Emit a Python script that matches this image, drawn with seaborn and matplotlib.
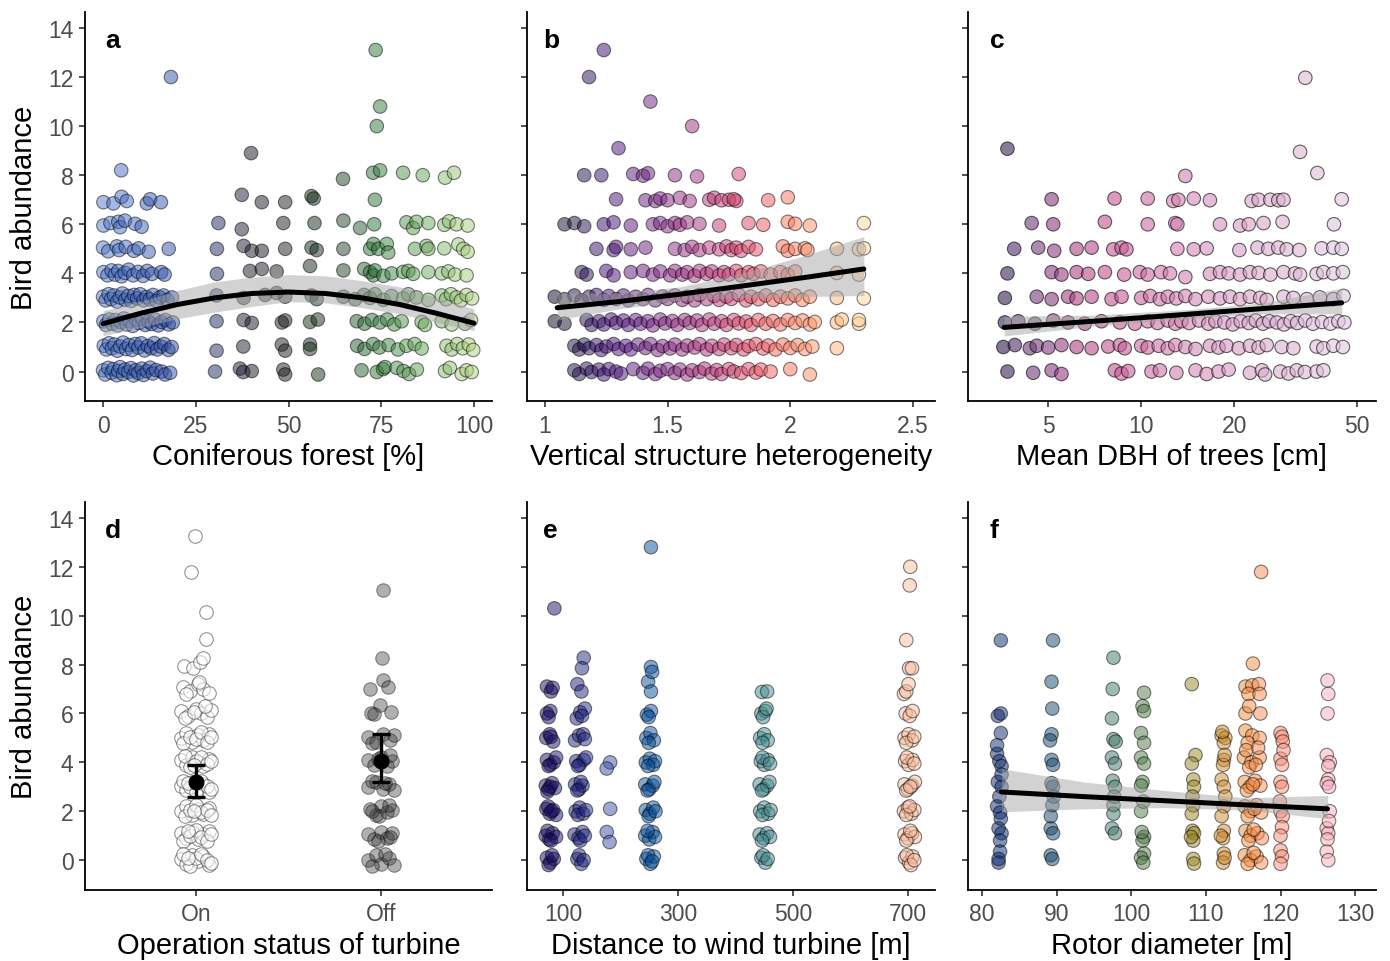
import matplotlib
matplotlib.use("Agg")
import matplotlib.pyplot as plt
import seaborn as sns
import pandas as pd
from matplotlib.colors import LinearSegmentedColormap, Normalize, LogNorm
from matplotlib.ticker import NullLocator

sns.set_style("ticks")
plt.rcParams["font.family"] = ["Liberation Sans", "DejaVu Sans"]

# ---------------- data ----------------
ylim = (-1.2, 14.65)
yticks = [0, 2, 4, 6, 8, 10, 12, 14]

# panel a: coniferous forest [%] vs abundance (x, y incl. vertical jitter)
a_pts = [
    (0.0,0.05),(0.6,-0.12),(1.4,0.15),(2.3,-0.05),(2.8,0.1),(3.7,-0.15),(4.1,0.02),(4.6,0.18),(5.4,-0.1),(5.9,0.08),
    (6.8,-0.02),(7.5,0.14),(8.2,-0.16),(8.8,0.05),(9.5,-0.06),(10.4,0.12),(10.9,-0.14),(11.8,0.02),(12.7,0.16),
    (13.4,-0.08),(14.3,0.06),(15.8,0.0),(16.7,-0.12),(18.1,-0.05),(30.2,0.0),(36.9,0.12),(37.8,-0.02),(40.1,0.02),
    (48.6,0.08),(49.1,-0.12),(58.0,-0.12),(69.7,0.05),(73.8,-0.02),(75.5,0.1),(76.0,0.18),(79.2,0.15),(81.0,0.02),
    (82.5,-0.1),(84.6,0.08),(92.2,0.02),(93.5,0.15),(96.7,-0.1),(98.0,0.05),(99.4,-0.02),
    (0.2,1.05),(0.9,0.9),(1.6,1.15),(2.4,0.95),(3.1,1.1),(3.9,0.85),(4.6,1.02),(5.4,1.18),(6.2,0.92),(7.0,1.08),
    (7.8,0.88),(8.7,1.12),(9.5,0.98),(10.3,1.15),(11.2,0.86),(12.1,1.04),(13.0,0.95),(13.8,1.16),(14.6,0.9),
    (15.6,1.02),(16.5,1.12),(17.6,0.88),(18.5,1.0),(30.6,0.85),(37.8,1.02),(48.2,1.1),(49.1,0.85),(55.8,1.1),
    (55.8,0.92),(68.5,1.05),(70.5,0.92),(72.8,1.12),(74.5,0.98),(77.0,1.08),(79.5,0.9),(81.8,1.05),(84.0,1.12),
    (85.9,0.94),(92.6,1.05),(94.0,0.9),(95.5,1.12),(97.0,0.95),(98.6,1.1),(99.8,0.88),
    (0.1,2.05),(0.8,1.9),(1.7,2.12),(2.5,1.95),(3.3,2.1),(4.0,1.88),(4.8,2.02),(5.6,2.16),(6.4,1.92),(7.2,2.06),
    (8.0,1.86),(8.9,2.1),(9.7,1.98),(10.6,2.14),(11.4,1.9),(12.3,2.04),(13.1,1.94),(14.0,2.12),(14.9,1.88),
    (15.8,2.02),(16.8,2.1),(17.7,1.92),(18.8,2.0),(30.6,2.05),(37.9,2.1),(40.1,1.98),(48.2,2.0),(49.1,2.08),
    (55.8,2.02),(57.9,2.12),(68.4,2.05),(70.5,1.95),(72.5,2.1),(74.6,2.0),(76.6,2.12),(78.5,1.92),(80.5,2.05),
    (85.9,2.02),(86.8,1.9),(91.3,2.05),(94.0,1.92),(97.6,1.95),(99.2,2.1),
    (0.0,3.05),(0.7,2.9),(1.5,3.15),(2.2,2.95),(3.0,3.1),(3.8,2.85),(4.5,3.02),(5.2,3.18),(6.0,2.92),(6.8,3.08),
    (7.6,2.88),(8.4,3.12),(9.2,2.98),(10.0,3.15),(10.9,2.9),(11.7,3.04),(12.6,2.94),(13.5,3.12),(14.4,2.88),
    (15.3,3.02),(16.3,3.1),(17.4,2.92),(18.6,3.02),(30.6,3.1),(37.9,3.0),(43.7,3.12),(46.8,3.2),(49.1,3.05),
    (56.2,3.1),(57.6,2.95),(64.8,3.05),(68.0,2.95),(70.4,3.12),(72.0,3.0),(73.3,3.15),(75.6,2.92),(77.8,3.08),
    (80.9,2.98),(82.3,3.15),(84.5,3.02),(87.7,2.92),(91.3,3.1),(92.5,2.95),(93.8,3.15),(95.3,3.02),(96.5,2.9),
    (98.0,3.12),(99.5,2.98),
    (0.1,4.05),(1.2,3.92),(2.3,4.12),(3.2,3.95),(4.1,4.1),(5.0,3.88),(5.9,4.02),(6.9,4.15),(8.1,3.92),(9.4,4.06),
    (10.8,3.9),(11.9,4.1),(13.2,3.98),(15.7,4.05),(16.6,3.95),(30.7,3.98),(39.6,4.1),(42.8,4.18),(46.8,4.08),
    (55.8,4.3),(64.8,4.12),(70.4,4.18),(72.0,4.05),(72.9,3.92),(73.3,4.12),(75.6,3.9),(77.8,4.0),(80.9,4.06),
    (82.3,4.1),(83.6,3.98),(87.7,4.05),(91.3,4.0),(93.1,4.08),(94.9,3.95),(98.0,3.92),
    (0.0,5.05),(1.4,4.9),(3.7,5.1),(4.3,4.95),(6.1,5.08),(8.3,4.92),(9.6,5.02),(12.3,4.88),(17.7,5.0),(30.7,5.0),
    (37.9,5.12),(40.1,4.92),(42.8,4.92),(49.1,5.0),(56.2,5.05),(57.6,4.95),(64.8,5.0),(72.0,5.0),(72.9,5.2),
    (74.2,5.0),(76.5,5.2),(76.9,4.85),(84.1,5.0),(87.2,5.12),(87.7,5.0),(92.0,5.02),(95.8,5.18),(97.1,5.0),(98.3,4.88),
    (0.1,5.95),(2.0,6.05),(4.1,6.1),(4.6,5.88),(5.9,6.15),(8.6,6.02),(10.4,5.9),(31.1,6.05),(37.4,5.8),(48.6,6.05),
    (57.0,6.05),(64.8,6.15),(69.3,5.85),(73.1,6.0),(81.8,6.08),(83.6,5.85),(84.5,6.1),(87.7,6.05),(92.0,5.98),
    (93.3,6.12),(95.3,6.0),(98.3,5.95),
    (0.1,6.9),(2.8,6.85),(5.0,7.12),(6.4,6.95),(11.8,6.85),(12.7,7.02),(15.6,6.9),(37.4,7.2),(42.8,6.9),(49.1,6.9),
    (56.2,7.15),(56.8,7.05),(73.3,7.0),
    (4.9,8.2),(18.3,12.0),(39.9,8.9),(64.7,7.85),(72.8,8.1),(74.7,8.2),(80.9,8.1),(86.2,8.0),(92.2,7.9),(94.6,8.1),
    (73.8,10.0),(74.7,10.8),(73.5,13.1),
]
a_fit_x = [0, 10, 20, 30, 40, 50, 60, 70, 80, 90, 100]
a_fit = [1.95, 2.37, 2.73, 3.0, 3.18, 3.24, 3.18, 3.0, 2.73, 2.37, 1.97]
a_lo = [1.46, 1.8, 2.15, 2.42, 2.65, 2.85, 2.8, 2.6, 2.35, 2.0, 1.67]
a_hi = [2.48, 2.85, 3.3, 3.65, 3.85, 3.95, 3.9, 3.7, 3.45, 3.0, 2.55]

# panel b: vertical structure heterogeneity
b_pts = [
    (1.12,0.05),(1.14,-0.1),(1.17,0.12),(1.19,-0.02),(1.22,0.08),(1.24,-0.12),(1.26,0.1),(1.29,0.0),(1.31,-0.08),
    (1.36,0.1),(1.40,-0.05),(1.42,0.12),(1.45,-0.1),(1.47,0.03),(1.50,0.1),(1.53,-0.06),(1.55,0.08),(1.58,-0.12),
    (1.60,0.05),(1.63,-0.02),(1.65,0.12),(1.68,-0.08),(1.70,0.06),(1.72,-0.1),(1.75,0.1),(1.77,0.0),(1.80,-0.06),
    (1.83,0.1),(1.86,-0.04),(1.88,0.08),(1.92,0.0),(2.00,0.1),(2.08,-0.12),
    (1.12,1.05),(1.14,0.9),(1.16,1.1),(1.18,0.95),(1.21,1.08),(1.23,0.88),(1.25,1.02),(1.28,1.12),(1.30,0.92),
    (1.33,1.05),(1.35,0.9),(1.38,1.1),(1.41,0.96),(1.43,1.12),(1.46,0.88),(1.48,1.04),(1.51,0.94),(1.53,1.1),
    (1.56,0.9),(1.58,1.06),(1.61,0.98),(1.63,1.12),(1.66,0.9),(1.68,1.05),(1.71,0.92),(1.73,1.1),(1.76,0.95),
    (1.78,1.08),(1.81,0.9),(1.83,1.04),(1.86,1.12),(1.89,0.94),(1.91,1.06),(1.94,0.9),(1.97,1.1),(2.00,0.96),
    (2.03,1.08),(2.06,0.92),(2.09,1.02),(2.19,0.95),
    (1.04,2.05),(1.08,1.95),(1.17,2.1),(1.19,1.9),(1.22,2.05),(1.24,1.92),(1.27,2.12),(1.29,1.98),(1.32,2.08),
    (1.34,1.9),(1.37,2.1),(1.39,1.95),(1.42,2.05),(1.44,1.88),(1.47,2.12),(1.49,1.96),(1.52,2.06),(1.54,1.9),
    (1.57,2.1),(1.59,1.98),(1.62,2.08),(1.64,1.9),(1.67,2.12),(1.69,1.95),(1.72,2.05),(1.74,1.9),(1.77,2.1),
    (1.79,1.96),(1.82,2.04),(1.84,1.9),(1.87,2.1),(1.90,1.95),(1.93,2.06),(1.96,1.92),(1.99,2.1),(2.02,1.98),
    (2.05,2.08),(2.08,1.92),(2.10,2.02),(2.19,2.0),(2.21,2.12),(2.28,1.95),(2.28,2.1),
    (1.04,3.05),(1.08,2.95),(1.12,3.1),(1.15,2.9),(1.18,3.05),(1.21,3.12),(1.24,2.92),(1.26,3.08),(1.29,2.95),
    (1.32,3.1),(1.34,2.9),(1.37,3.05),(1.40,2.95),(1.42,3.12),(1.45,2.9),(1.48,3.06),(1.50,2.96),(1.53,3.1),
    (1.56,2.92),(1.58,3.05),(1.61,2.9),(1.63,3.12),(1.66,2.95),(1.69,3.08),(1.71,2.92),(1.74,3.05),(1.76,2.96),
    (1.79,3.12),(1.82,2.9),(1.84,3.05),(1.87,2.95),(1.90,3.1),(1.93,2.92),(1.96,3.05),(1.99,2.98),(2.02,3.1),
    (2.05,2.92),(2.08,3.05),(2.19,3.0),(2.30,2.98),
    (1.15,4.05),(1.17,3.95),(1.25,4.1),(1.28,3.92),(1.35,4.05),(1.40,4.1),(1.44,3.95),(1.47,4.08),(1.51,3.92),
    (1.53,4.1),(1.56,3.95),(1.58,4.05),(1.61,3.9),(1.63,4.1),(1.66,3.98),(1.68,4.08),(1.71,3.92),(1.73,4.05),
    (1.75,3.95),(1.78,4.1),(1.80,3.92),(1.83,4.05),(1.85,3.98),(1.88,4.08),(1.92,3.95),(1.96,4.05),(1.99,3.95),
    (2.02,4.08),(2.19,4.02),(2.28,3.95),
    (1.21,5.0),(1.28,4.95),(1.29,5.08),(1.35,4.98),(1.41,5.05),(1.53,5.0),(1.57,4.95),(1.60,5.08),(1.63,4.95),
    (1.67,5.05),(1.71,4.98),(1.74,5.1),(1.76,4.95),(1.78,5.05),(1.80,4.92),(1.83,5.08),(1.86,4.98),(1.97,5.1),
    (1.99,4.92),(2.02,5.0),(2.06,5.02),(2.07,4.95),(2.19,5.0),(2.28,4.98),(2.30,5.02),
    (1.08,6.0),(1.12,6.05),(1.16,5.92),(1.24,6.0),(1.28,6.08),(1.35,5.95),(1.44,6.0),(1.47,6.05),(1.50,5.92),
    (1.53,6.05),(1.55,5.98),(1.58,6.08),(1.63,6.02),(1.71,5.95),(1.83,6.05),(1.89,5.98),(1.99,6.1),(2.02,6.02),
    (2.08,5.95),(2.30,6.05),
    (1.29,7.02),(1.41,6.98),(1.45,6.95),(1.47,7.05),(1.50,6.98),(1.55,7.08),(1.59,6.95),(1.67,7.0),(1.69,7.08),
    (1.72,6.98),(1.75,7.0),(1.78,6.95),(1.77,7.02),(1.91,6.98),(1.99,7.1),
    (1.16,8.0),(1.23,8.0),(1.36,8.05),(1.40,7.98),(1.42,8.08),(1.53,8.0),(1.62,7.95),(1.79,8.05),
    (1.24,13.1),(1.18,12.0),(1.43,11.0),(1.60,10.0),(1.30,9.1),
]
b_fit_x = [1.05, 1.3, 1.55, 1.8, 2.05, 2.3]
b_fit = [2.6, 2.85, 3.15, 3.48, 3.82, 4.18]
b_lo = [2.1, 2.55, 2.9, 3.0, 3.05, 3.1]
b_hi = [3.2, 3.2, 3.45, 4.0, 4.7, 5.5]

# panel c: mean DBH of trees [cm] (log axis)
c_pts = [
    (3.69,0.0),(4.47,-0.05),(5.13,0.05),(5.52,-0.1),(8.22,0.05),(8.64,-0.08),(9.08,0.02),(10.8,0.0),(11.5,0.05),
    (13.0,-0.05),(15.0,0.05),(16.3,-0.1),(17.8,0.0),(19.2,0.08),(22.5,-0.05),(24.6,0.05),(25.2,-0.12),(28.2,0.0),
    (30.0,-0.08),(31.9,0.05),(33.9,-0.02),(37.0,0.0),(38.9,0.05),
    (3.58,1.0),(3.90,1.08),(4.36,0.95),(4.59,1.05),(5.00,0.98),(5.52,1.08),(6.18,1.0),(6.91,0.95),(7.82,1.02),
    (8.53,1.08),(8.85,0.95),(10.0,1.05),(10.5,0.98),(11.4,1.05),(12.2,0.95),(12.9,1.08),(13.9,1.0),(15.0,0.92),
    (16.7,1.05),(17.8,0.98),(18.9,1.05),(20.7,0.95),(22.5,1.05),(24.0,0.98),(25.5,1.08),(28.5,1.0),(31.1,0.95),
    (37.0,1.02),(38.9,0.95),(41.9,1.05),(45.0,1.0),
    (3.62,2.0),(4.00,2.05),(4.53,1.95),(5.19,2.08),(5.80,2.0),(6.57,1.95),(7.44,2.05),(8.53,2.0),(9.54,1.95),
    (10.5,2.05),(11.3,1.98),(12.2,2.08),(12.9,1.95),(13.5,2.05),(14.3,1.98),(15.4,2.08),(16.5,1.95),(17.4,2.05),
    (18.6,2.0),(19.8,1.92),(21.0,2.05),(22.3,1.98),(23.5,2.08),(24.8,1.95),(26.0,2.05),(27.5,2.0),(29.0,1.92),
    (30.5,2.05),(32.0,1.98),(34.0,2.08),(36.0,1.95),(38.5,2.02),(41.0,1.95),(43.5,2.05),(45.5,2.0),
    (3.62,3.0),(4.59,3.05),(5.13,2.95),(5.80,3.05),(6.18,2.98),(6.91,3.05),(8.02,2.95),(8.64,3.05),(10.0,3.0),
    (10.7,3.08),(11.5,2.95),(12.2,3.05),(13.0,2.98),(13.9,3.08),(15.0,2.95),(16.5,3.05),(18.0,2.98),(19.4,3.05),
    (20.9,2.95),(22.5,3.05),(24.3,3.0),(25.5,2.92),(28.9,3.05),(31.1,3.0),(34.4,2.95),(37.9,3.02),(41.9,2.95),
    (45.2,3.08),
    (3.69,4.0),(5.13,4.05),(5.52,3.95),(6.18,4.05),(6.74,3.98),(7.63,4.05),(8.81,3.95),(9.90,4.05),(10.5,3.95),
    (11.6,4.05),(12.4,4.0),(13.9,3.85),(16.7,3.98),(18.0,4.05),(19.2,4.0),(20.9,3.95),(22.5,4.05),(24.0,4.02),
    (26.2,3.95),(28.9,4.05),(31.5,4.0),(32.7,3.95),(37.0,3.98),(38.9,4.05),(41.9,4.0),(45.0,4.05),
    (3.88,5.0),(4.64,5.05),(5.23,4.92),(6.18,5.0),(6.91,5.05),(8.12,4.98),(8.64,5.05),(8.96,4.98),(13.1,5.0),
    (14.8,4.98),(16.3,5.02),(20.8,4.95),(23.8,5.05),(25.8,5.0),(27.8,5.05),(29.6,4.98),(32.5,4.95),(38.4,5.02),
    (41.9,5.05),(44.6,5.0),
    (4.42,6.05),(5.19,6.0),(7.63,6.1),(10.5,6.0),(12.9,6.05),(13.1,6.0),(18.0,6.0),(20.9,5.95),(22.3,6.0),
    (24.9,6.05),(28.7,6.1),(42.1,6.0),
    (5.13,7.02),(8.2,7.05),(10.5,7.05),(12.7,6.95),(13.2,7.0),(14.8,7.05),(16.7,6.98),(22.8,6.95),(24.0,7.0),
    (26.2,7.0),(27.8,6.98),(28.9,7.0),(44.6,7.02),
    (3.69,9.08),(13.9,7.97),(34.0,11.97),(32.7,8.95),(37.2,8.09),
]
c_fit_x = [3.6, 7.0, 14.0, 25.0, 44.6]
c_fit = [1.80, 2.05, 2.33, 2.57, 2.80]
c_lo = [1.45, 1.85, 2.15, 2.35, 2.35]
c_hi = [2.25, 2.3, 2.52, 2.8, 3.4]

# panel d: operation status (category position incl. horizontal jitter, y)
d_categories = ["On", "Off"]
d_on_pts = [
    (-0.005,13.27),(-0.024,11.8),(0.053,10.15),(0.053,9.06),(-0.064,7.95),(-0.015,7.85),(0.022,8.1),(0.04,8.25),
    (-0.07,7.1),(-0.03,6.9),(0.01,7.2),(0.04,7.0),(0.07,6.85),(-0.05,6.8),(0.02,7.3),
    (-0.08,6.1),(-0.04,5.9),(0.0,6.2),(0.03,6.0),(0.06,5.85),(-0.06,5.8),(0.08,6.15),(-0.01,6.05),(0.05,6.3),
    (-0.08,5.0),(-0.05,5.2),(-0.02,4.85),(0.01,5.1),(0.04,4.9),(0.07,5.15),(-0.07,4.8),(-0.03,5.05),(0.0,4.95),
    (0.03,5.25),(0.06,4.85),(0.08,5.05),
    (-0.08,4.1),(-0.05,3.9),(-0.02,4.2),(0.01,4.0),(0.04,3.85),(0.07,4.15),(-0.06,4.25),(-0.03,3.8),(0.0,4.05),
    (0.03,4.2),(0.06,3.95),(0.08,4.05),(-0.01,3.9),
    (-0.08,3.05),(-0.05,2.85),(-0.02,3.2),(0.01,2.95),(0.04,3.1),(0.07,2.8),(-0.07,3.25),(-0.03,3.0),(0.0,2.8),
    (0.03,3.25),(0.06,3.05),(0.08,2.9),(-0.04,3.15),
    (-0.08,2.0),(-0.05,2.2),(-0.02,1.85),(0.01,2.1),(0.04,1.9),(0.07,2.15),(-0.06,1.8),(-0.03,2.05),(0.0,2.25),
    (0.03,1.95),(0.06,2.05),(0.08,1.85),(-0.01,2.0),
    (-0.08,1.1),(-0.05,0.9),(-0.02,1.15),(0.01,0.85),(0.04,1.05),(0.07,1.2),(-0.07,0.8),(-0.03,1.0),(0.0,1.25),
    (0.03,0.95),(0.06,0.8),(0.08,1.05),(-0.04,1.2),
    (-0.08,0.05),(-0.05,-0.15),(-0.02,0.2),(0.01,-0.05),(0.04,0.15),(0.07,-0.2),(-0.07,0.25),(-0.03,-0.25),
    (0.0,0.1),(0.03,0.25),(0.06,0.0),(0.08,-0.1),(-0.04,0.1),
]
d_off_pts = [
    (1.01,11.06),(1.004,8.28),(0.94,7.0),(1.01,7.35),(1.036,7.08),(0.946,6.02),(0.991,6.33),(1.054,6.06),(0.96,5.98),
    (0.93,5.05),(0.97,4.85),(1.01,5.15),(1.05,4.9),(1.07,5.1),(0.95,4.8),
    (0.93,4.1),(0.96,3.9),(1.0,4.2),(1.03,3.85),(1.06,4.05),(0.98,4.15),(1.05,4.3),
    (0.93,3.0),(0.97,3.2),(1.01,2.9),(1.04,3.1),(1.07,2.85),(0.95,3.25),(1.02,3.15),
    (0.94,2.1),(0.97,1.85),(1.0,2.2),(1.03,1.95),(1.06,2.05),(0.99,1.8),(1.04,2.25),(0.95,2.0),
    (0.93,1.05),(0.96,0.85),(1.0,1.15),(1.03,0.9),(1.06,1.1),(0.98,0.8),(1.05,0.95),
    (0.93,0.0),(0.97,0.2),(1.0,-0.15),(1.04,0.1),(1.07,-0.2),(0.95,-0.25),(1.02,0.25),
]
d_mean = [3.2, 4.06]
d_lo = [2.58, 3.2]
d_hi = [3.88, 5.17]

# panel e: distance to wind turbine [m]
e_pts = [
    (72,0.1),(78,-0.1),(84,0.05),(75,-0.2),(81,0.2),(70,1.0),(76,0.85),(82,1.1),(88,0.95),(73,1.2),(79,0.8),
    (71,2.1),(77,1.9),(83,2.05),(88,1.85),(74,2.2),(80,2.0),(70,3.05),(75,2.9),(81,3.15),(86,2.95),(78,3.0),(73,2.8),
    (72,4.1),(78,3.9),(84,4.0),(88,4.2),(75,3.85),(71,5.0),(77,5.15),(83,4.85),(79,5.05),(72,6.0),(78,6.1),(75,5.85),
    (72,7.1),(79,6.9),(82,7.05),(85,10.3),
    (125,0.05),(132,-0.15),(128,0.2),(136,0.0),(120,1.05),(127,0.9),(134,1.15),(130,0.8),(138,1.0),
    (122,2.0),(129,2.15),(135,1.9),(126,1.85),(140,2.05),(121,3.1),(128,2.9),(134,3.05),(131,3.2),(125,2.85),
    (123,4.05),(129,3.9),(136,4.1),(140,4.2),(126,3.85),(121,4.9),(128,5.1),(135,5.15),(138,4.95),
    (124,5.8),(130,6.05),(138,6.2),(133,5.9),(125,7.2),(132,6.9),(136,8.28),(133,7.85),
    (182,4.0),(176,3.75),(182,2.1),(176,1.15),(181,0.74),
    (245,0.05),(252,-0.15),(258,0.15),(248,0.2),(255,-0.05),(243,1.0),(250,0.85),(256,1.15),(260,0.95),(247,1.2),
    (244,2.05),(251,1.9),(257,2.15),(249,1.8),(261,2.0),(243,3.1),(250,2.9),(256,3.05),(259,3.2),(247,2.85),
    (244,4.0),(251,4.15),(257,3.9),(260,4.05),(248,3.85),(245,5.0),(252,5.2),(258,4.9),(249,4.8),
    (246,5.95),(253,6.1),(249,5.85),(248,7.3),(253,6.9),(253,7.9),(255,7.7),(253,12.8),
    (445,0.1),(452,-0.1),(448,0.2),(456,0.05),(442,1.05),(449,0.9),(455,1.1),(460,0.95),(446,0.8),
    (443,2.0),(450,2.15),(457,1.9),(447,1.85),(461,2.05),(442,3.1),(449,2.9),(455,3.05),(459,3.2),(446,2.85),
    (444,4.05),(450,3.9),(456,4.1),(447,4.2),(460,3.95),(443,5.0),(450,5.15),(456,4.9),(447,4.8),
    (445,6.0),(452,6.1),(448,5.85),(454,6.2),(446,6.88),(455,6.9),
    (695,0.1),(702,-0.1),(708,0.15),(698,0.2),(705,-0.2),(711,0.0),(694,1.05),(700,0.9),(707,1.1),(712,0.95),
    (697,0.8),(704,1.2),(693,2.0),(700,2.15),(706,1.9),(711,2.05),(697,1.85),(703,2.2),(694,3.1),(700,2.9),
    (707,3.05),(712,3.2),(697,2.85),(704,3.0),(695,4.05),(701,3.9),(708,4.1),(698,4.2),(711,3.95),
    (694,5.0),(701,5.15),(707,4.9),(697,4.8),(711,5.05),(696,6.0),(703,5.9),(708,6.1),(693,6.8),(697,6.9),
    (701,7.2),(702,7.85),(707,7.85),(697,9.0),(703,11.24),(704,12.0),
]

# panel f: rotor diameter [m]
f_pts = [
    (82.5,8.99),(82.1,5.9),(82.5,6.0),(82.5,5.2),(82.0,4.35),(82.3,4.05),(82.6,3.85),(82.1,3.2),(82.6,3.0),
    (82.0,2.2),(82.4,1.95),(82.2,1.3),(82.6,1.1),(82.4,0.8),(82.4,0.35),(82.2,-0.1),(82.3,2.6),(82.5,1.7),
    (82.2,0.05),(82.6,3.5),(82.0,4.7),
    (89.5,8.99),(89.3,7.3),(89.4,6.2),(89.3,5.15),(89.1,4.9),(89.3,4.1),(89.5,3.9),(89.3,3.15),(89.5,3.0),
    (89.4,2.25),(89.2,1.3),(89.5,1.1),(89.2,0.2),(89.4,0.05),(89.6,2.6),(89.2,1.8),
    (97.6,8.28),(97.5,7.0),(97.4,5.8),(97.6,4.95),(97.9,4.85),(97.4,4.2),(97.8,3.95),(97.5,3.25),(97.8,3.0),
    (97.6,2.25),(97.7,2.6),(97.4,1.3),(97.8,1.1),(97.6,1.9),
    (101.7,6.85),(101.5,6.3),(101.7,6.1),(101.3,5.2),(101.7,4.8),(101.3,4.2),(101.7,3.95),(101.5,3.2),
    (101.3,3.05),(101.3,2.0),(101.6,2.4),(101.7,0.95),(101.5,0.8),(101.7,0.27),(101.3,0.1),(101.6,-0.1),(101.4,1.15),
    (108.1,7.2),(108.6,4.3),(108.1,3.95),(108.3,3.3),(108.4,3.0),(108.3,2.24),(108.1,1.9),(108.2,1.2),
    (108.4,1.1),(108.3,0.8),(108.3,0.05),(108.4,-0.14),(108.2,2.6),(108.0,0.95),
    (112.1,5.1),(112.6,5.0),(112.4,4.8),(112.4,4.1),(112.3,3.9),(112.1,3.3),(112.4,3.0),(112.4,2.2),(112.1,1.8),
    (112.4,1.2),(112.3,0.9),(112.4,0.27),(112.3,-0.1),(112.6,2.6),(112.2,5.25),(112.5,4.3),(112.0,1.0),(112.5,0.1),
    (117.4,11.79),(116.3,8.04),(115.3,7.1),(116.2,7.15),(117.1,7.2),(115.7,6.8),(117.2,6.8),(115.3,6.0),
    (115.8,6.3),(117.3,6.0),(115.3,5.3),(116.2,5.1),(117.2,5.0),(115.6,4.8),(115.1,4.2),(116.1,4.0),(117.2,4.2),
    (115.8,3.8),(116.7,3.9),(115.2,3.2),(115.9,3.0),(116.6,3.25),(117.3,3.05),(115.5,2.85),(116.3,3.1),
    (115.2,2.2),(116.0,2.0),(116.8,2.25),(117.4,1.95),(115.6,1.8),(116.5,2.1),(115.3,1.2),(116.0,1.0),
    (116.9,1.1),(117.5,0.9),(115.7,0.8),(116.4,1.25),(115.2,0.2),(116.0,0.0),(116.8,0.15),(117.4,-0.1),
    (115.6,-0.15),(116.4,0.3),(117.0,4.6),(115.4,4.5),
    (120.0,5.2),(120.2,5.05),(120.3,4.85),(120.0,4.15),(120.2,3.9),(120.0,3.2),(120.2,3.0),(120.0,2.0),
    (120.3,1.8),(120.2,1.35),(120.0,1.0),(120.0,0.4),(120.2,0.15),(120.0,-0.15),(120.4,4.5),(119.9,2.4),
    (126.3,7.35),(126.4,6.8),(126.3,6.0),(126.2,4.3),(126.6,4.0),(126.4,3.85),(126.4,3.3),(126.2,3.15),
    (126.6,2.0),(126.2,1.3),(126.4,1.1),(126.3,0.85),(126.2,0.35),(126.4,0.0),(126.5,1.6),(126.5,3.0),
]
f_fit_x = [82.6, 93.6, 104.5, 115.4, 126.3]
f_fit = [2.79, 2.6, 2.43, 2.26, 2.1]
f_lo = [1.98, 2.1, 2.15, 2.05, 1.7]
f_hi = [3.74, 3.2, 2.85, 2.55, 2.65]

# ---------------- styling ----------------
def cmap_from(anchors, vmin, vmax, name):
    return LinearSegmentedColormap.from_list(
        name, [((v - vmin) / (vmax - vmin), c) for v, c in anchors])

a_cmap = cmap_from([(0, "#5078cd"), (18, "#3250aa"), (30, "#1e2d64"), (40, "#191923"), (50, "#1c2020"),
                    (57, "#142d19"), (65, "#1e4628"), (73, "#2d7337"), (81, "#4b914b"), (88, "#6eaa5f"),
                    (94, "#91c373"), (100, "#afd282")], 0, 100, "a")
c_cmap = cmap_from([(3.5, "#2a1846"), (5, "#4a2d6a"), (7, "#6a3a7a"), (10, "#8c3c80"), (13, "#b04585"),
                    (18, "#c85a96"), (25, "#d27fb0"), (35, "#d9a6c8"), (46, "#e0c8e2")], 3.5, 46, "c")
e_cmap = cmap_from([(77, "#190f64"), (128, "#1e237d"), (182, "#3c55aa"), (250, "#0a509b"), (450, "#468c91"),
                    (700, "#fabea0")], 77, 700, "e")
f_cmap = cmap_from([(82, "#0a286e"), (89, "#14466e"), (97, "#3c786e"), (101, "#4b7a4b"), (108, "#968723"),
                    (112, "#c88c32"), (116, "#f58c41"), (120, "#fa8c73"), (126, "#faafbe")], 82, 126, "f")

W, H = 1390, 962
fig = plt.figure(figsize=(W / 100, H / 100), dpi=100)

def add_ax(l, t, r, b):
    return fig.add_axes([l / W, 1 - b / H, (r - l) / W, (b - t) / H])

cols = [(84.5, 492.5), (527, 935), (968, 1376)]
rows = [(13, 402), (503, 890.5)]
axes = [[add_ax(cl, rt, cr, rb) for (cl, cr) in cols] for (rt, rb) in rows]

def scatter(ax, pts, cmap, norm, alpha=0.5):
    df = pd.DataFrame(pts, columns=["x", "y"])
    sns.scatterplot(data=df, x="x", y="y", hue="x", palette=cmap, hue_norm=norm, ax=ax, zorder=2,
                    s=95, alpha=alpha, edgecolor="black", linewidth=0.8, legend=False)

def fit(ax, fx, f, lo, hi):
    ax.fill_between(fx, lo, hi, color="#a6a6a6", alpha=0.5, lw=0, zorder=3)
    sns.lineplot(x=fx, y=f, color="black", lw=3.6, ax=ax, zorder=4)

def style(ax, letter, lx, xlabel, ylab):
    for s in ("top", "right"):
        ax.spines[s].set_visible(False)
    for s in ("left", "bottom"):
        ax.spines[s].set_linewidth(1.3)
        ax.spines[s].set_color("black")
    ax.set_ylim(*ylim)
    ax.set_yticks(yticks)
    ax.tick_params(axis="both", length=4.5, width=1.2, color="#333333", labelsize=16.5,
                   labelcolor="#4d4d4d")
    ax.tick_params(axis="x", pad=4.6)
    ax.tick_params(axis="y", pad=3.5)
    ax.set_xlabel(xlabel, fontsize=21, color="black", labelpad=4)
    if ylab:
        ax.set_ylabel("Bird abundance", fontsize=21, color="black", labelpad=7)
    else:
        ax.set_ylabel("")
        ax.set_yticklabels([])
    ax.text(lx, 0.91, letter, transform=ax.transAxes, fontsize=19, fontweight="bold",
            color="black", va="baseline")

# a
ax = axes[0][0]
scatter(ax, a_pts, a_cmap, Normalize(0, 100))
fit(ax, a_fit_x, a_fit, a_lo, a_hi)
ax.set_xlim(-5, 105)
ax.set_xticks([0, 25, 50, 75, 100])
style(ax, "a", 0.052, "Coniferous forest [%]", True)

# b
ax = axes[0][1]
scatter(ax, b_pts, "magma", Normalize(0.95, 2.42))
fit(ax, b_fit_x, b_fit, b_lo, b_hi)
ax.set_xlim(0.927, 2.59)
ax.set_xticks([1, 1.5, 2, 2.5])
ax.set_xticklabels(["1", "1.5", "2", "2.5"])
style(ax, "b", 0.041, "Vertical structure heterogeneity", False)

# c
ax = axes[0][2]
ax.set_xscale("log")
scatter(ax, c_pts, c_cmap, LogNorm(3.5, 46), alpha=0.6)
fit(ax, c_fit_x, c_fit, c_lo, c_hi)
ax.set_xlim(2.75, 57.6)
ax.set_xticks([5, 10, 20, 50])
ax.set_xticklabels(["5", "10", "20", "50"])
ax.xaxis.set_minor_locator(NullLocator())
style(ax, "c", 0.053, "Mean DBH of trees [cm]", False)

# d
ax = axes[1][0]
don = pd.DataFrame(d_on_pts, columns=["x", "y"])
doff = pd.DataFrame(d_off_pts, columns=["x", "y"])
sns.scatterplot(data=don, x="x", y="y", color="white", edgecolor="#3c3c3c", linewidth=0.8,
                s=95, alpha=0.55, legend=False, ax=ax, zorder=2)
sns.scatterplot(data=doff, x="x", y="y", color="#3a3a3a", edgecolor="black", linewidth=0.8,
                s=95, alpha=0.4, legend=False, ax=ax, zorder=2)
ax.errorbar([0, 1], d_mean,
            yerr=[[m - l for m, l in zip(d_mean, d_lo)], [h - m for m, h in zip(d_mean, d_hi)]],
            fmt="o", color="black", ms=10.5, elinewidth=2.4, capsize=6.5, capthick=2.4, zorder=5)
ax.set_xlim(-0.6, 1.6)
ax.set_xticks([0, 1])
ax.set_xticklabels(d_categories)
style(ax, "d", 0.05, "Operation status of turbine", True)

# e
ax = axes[1][1]
scatter(ax, e_pts, e_cmap, Normalize(77, 700))
ax.set_xlim(37.4, 747)
ax.set_xticks([100, 300, 500, 700])
style(ax, "e", 0.039, "Distance to wind turbine [m]", False)

# f
ax = axes[1][2]
scatter(ax, f_pts, f_cmap, Normalize(82, 126))
fit(ax, f_fit_x, f_fit, f_lo, f_hi)
ax.set_xlim(78.1, 132.8)
ax.set_xticks([80, 90, 100, 110, 120, 130])
style(ax, "f", 0.053, "Rotor diameter [m]", False)

fig.savefig("out.png", dpi=100)
